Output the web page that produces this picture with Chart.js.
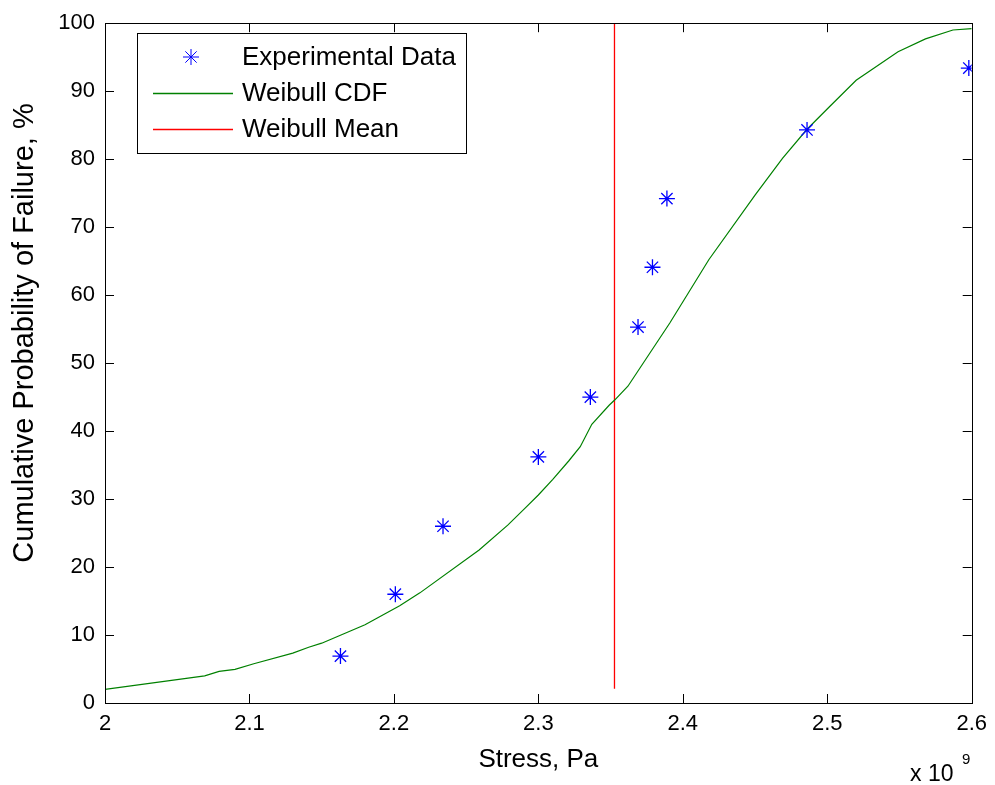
<!DOCTYPE html>
<html>
<head>
<meta charset="utf-8">
<script src="https://cdn.jsdelivr.net/npm/chart.js@4"></script>
<style>
  html, body { margin: 0; padding: 0; background: #fff; }
  #wrap { width: 995px; height: 785px; }
</style>
</head>
<body>
<div id="wrap"><canvas id="grafico"></canvas></div>
<script>
// stress values are in units of 10^9 Pa
const expStress = [2.163, 2.201, 2.234, 2.300, 2.336, 2.369, 2.379, 2.389, 2.486, 2.598];
const expProb = [6.9, 16.0, 26.0, 36.2, 45.0, 55.3, 64.1, 74.2, 84.3, 93.4];

const cdfStress = [2.000, 2.069, 2.079, 2.090, 2.103, 2.130, 2.141, 2.150, 2.180, 2.204,
  2.218, 2.259, 2.279, 2.291, 2.300, 2.310, 2.321, 2.329, 2.337, 2.349,
  2.353, 2.362, 2.391, 2.418, 2.450, 2.469, 2.486, 2.501, 2.520, 2.549,
  2.568, 2.587, 2.600];
const cdfProb = [2.0, 4.0, 4.65, 4.94, 5.77, 7.33, 8.2, 8.8, 11.5, 14.3,
  16.2, 22.5, 26.2, 28.7, 30.6, 32.9, 35.6, 37.7, 41.0, 43.8,
  44.6, 46.6, 55.9, 65.2, 74.7, 80.1, 84.4, 87.6, 91.6, 95.8,
  97.7, 99.0, 99.2];

const meanStress = [2.3527, 2.3527];
const meanProb = [2.1, 100];

const xTicks = [2, 2.1, 2.2, 2.3, 2.4, 2.5, 2.6];
const xTickLabels = ["2", "2.1", "2.2", "2.3", "2.4", "2.5", "2.6"];
const yTicks = [0, 10, 20, 30, 40, 50, 60, 70, 80, 90, 100];
const yTitulo = "Cumulative Probability of Failure, %";

const fonte = "'Liberation Sans', Arial, Helvetica, sans-serif";

function pares(xs, ys) {
    return xs.map((v, i) => ({ x: v, y: ys[i] }));
}

// box, inward ticks, legend, y title and the exponent label, drawn like matlab does
const moldura = {
    id: "moldura",
    afterDraw(chart) {
        const ctx = chart.ctx;
        const a = chart.chartArea;
        const sx = chart.scales.x;
        const sy = chart.scales.y;
        ctx.save();
        ctx.strokeStyle = "#000";
        ctx.lineWidth = 1;
        ctx.strokeRect(Math.round(a.left) + 0.5, Math.round(a.top) + 0.5,
            Math.round(a.right - a.left), Math.round(a.bottom - a.top));

        ctx.beginPath();
        sx.ticks.forEach(t => {
            const px = Math.round(sx.getPixelForValue(t.value)) + 0.5;
            ctx.moveTo(px, a.bottom); ctx.lineTo(px, a.bottom - 9);
            ctx.moveTo(px, a.top); ctx.lineTo(px, a.top + 9);
        });
        sy.ticks.forEach(t => {
            const py = Math.round(sy.getPixelForValue(t.value)) + 0.5;
            ctx.moveTo(a.left, py); ctx.lineTo(a.left + 9, py);
            ctx.moveTo(a.right, py); ctx.lineTo(a.right - 9, py);
        });
        ctx.stroke();

        // legend
        const lx = 137, ly = 33, lw = 329, lh = 120;
        ctx.fillStyle = "#fff";
        ctx.fillRect(lx, ly, lw, lh);
        ctx.strokeRect(lx + 0.5, ly + 0.5, lw, lh);
        ctx.font = "26px " + fonte;
        ctx.textBaseline = "middle";
        chart.data.datasets.forEach((ds, i) => {
            const cy = 57 + i * 36;
            ctx.strokeStyle = ds.borderColor;
            if (ds.showLine === false) {
                Chart.helpers.drawPoint(ctx, {
                    pointStyle: "star", radius: 8, rotation: 0, borderWidth: 1.3
                }, 191, cy);
            } else {
                ctx.lineWidth = 1.3;
                ctx.beginPath();
                ctx.moveTo(153, cy + 0.5);
                ctx.lineTo(233, cy + 0.5);
                ctx.stroke();
            }
            ctx.fillStyle = "#000";
            ctx.fillText(ds.label, 242, cy + 1);
        });

        // y title
        ctx.save();
        ctx.translate(25, 333);
        ctx.rotate(-Math.PI / 2);
        ctx.textAlign = "center";
        ctx.textBaseline = "middle";
        ctx.font = "29px " + fonte;
        ctx.fillStyle = "#000";
        ctx.fillText(yTitulo, 0, 0);
        ctx.restore();

        // x 10^9
        ctx.textBaseline = "alphabetic";
        ctx.fillStyle = "#000";
        ctx.font = "23px " + fonte;
        ctx.fillText("x 10", 910, 781);
        ctx.font = "15px " + fonte;
        ctx.fillText("9", 962, 764);
        ctx.restore();
    }
};

const ctx = document.getElementById("grafico").getContext("2d");

new Chart(ctx, {
    type: "scatter",
    data: {
        datasets: [{
            label: "Experimental Data",
            data: pares(expStress, expProb),
            showLine: false,
            pointStyle: "star",
            pointRadius: 8,
            pointBorderWidth: 1.3,
            borderColor: "#0000ff",
            backgroundColor: "#0000ff",
            order: 1
        }, {
            label: "Weibull CDF",
            data: pares(cdfStress, cdfProb),
            showLine: true,
            borderColor: "#008000",
            borderWidth: 1.2,
            pointRadius: 0,
            tension: 0,
            order: 2
        }, {
            label: "Weibull Mean",
            data: pares(meanStress, meanProb),
            showLine: true,
            borderColor: "#ff0000",
            borderWidth: 1.3,
            pointRadius: 0,
            order: 3
        }]
    },
    options: {
        responsive: true,
        maintainAspectRatio: false,
        animation: false,
        layout: {
            padding: { top: 19, right: 22, left: 0, bottom: 0 }
        },
        plugins: {
            legend: { display: false },
            tooltip: { enabled: false }
        },
        scales: {
            x: {
                type: "linear",
                min: 2,
                max: 2.6,
                afterBuildTicks: scale => {
                    scale.ticks = xTicks.map(v => ({ value: v }));
                },
                afterFit: scale => { scale.height = 82; },
                ticks: {
                    color: "#000",
                    padding: 8,
                    font: { family: fonte, size: 22 },
                    callback: (v, i) => xTickLabels[i]
                },
                grid: { display: false, drawTicks: false },
                border: { display: false },
                title: {
                    display: true,
                    text: "Stress, Pa",
                    color: "#000",
                    font: { family: fonte, size: 26 },
                    padding: { top: 0, bottom: 10 }
                }
            },
            y: {
                type: "linear",
                min: 0,
                max: 100,
                afterBuildTicks: scale => {
                    scale.ticks = yTicks.map(v => ({ value: v }));
                },
                afterFit: scale => { scale.width = 105; },
                ticks: {
                    color: "#000",
                    padding: 10,
                    font: { family: fonte, size: 22 }
                },
                grid: { display: false, drawTicks: false },
                border: { display: false },
                title: { display: false }
            }
        }
    },
    plugins: [moldura]
});
</script>
</body>
</html>
